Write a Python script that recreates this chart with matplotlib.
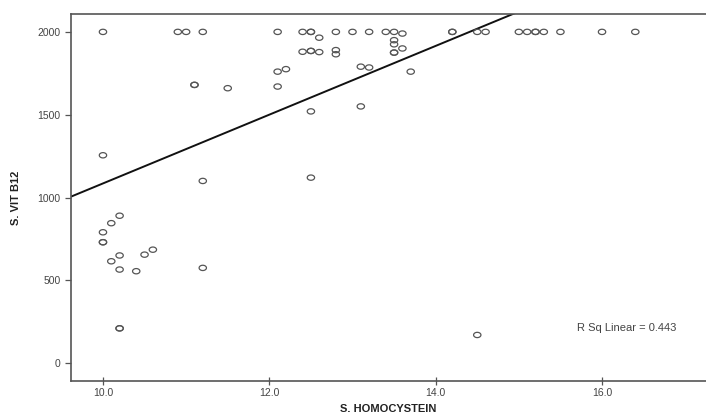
import numpy as np
import matplotlib
matplotlib.use("Agg")
import matplotlib.pyplot as plt
from matplotlib.path import Path

# datos
homocystein = [
    10.0, 10.9, 11.0, 11.2, 12.1, 12.4, 12.5, 12.5, 12.6, 12.8, 13.0, 13.2, 13.4,
    13.5, 13.6, 14.2, 14.2, 14.5, 14.6, 15.0, 15.1, 15.2, 15.2, 15.3, 15.5, 16.0, 16.4,
    12.4, 12.5, 12.5, 12.6, 12.8, 12.8,
    13.5, 13.5, 13.5, 13.5, 13.6, 13.7,
    12.1, 12.2, 13.1, 13.2,
    11.1, 11.1, 11.5, 12.1, 12.5, 13.1,
    10.0, 11.2, 12.5,
    10.2, 10.1, 10.0, 10.0, 10.0, 10.2, 10.1, 10.2, 10.4, 10.5, 10.6, 11.2,
    10.2, 10.2, 14.5,
]
vit_b12 = [
    2000, 2000, 2000, 2000, 2000, 2000, 2000, 2000, 1965, 2000, 2000, 2000, 2000,
    2000, 1990, 2000, 2000, 2000, 2000, 2000, 2000, 2000, 2000, 2000, 2000, 2000, 2000,
    1880, 1885, 1885, 1878, 1890, 1865,
    1950, 1925, 1875, 1875, 1900, 1760,
    1760, 1775, 1790, 1785,
    1680, 1680, 1660, 1670, 1520, 1550,
    1255, 1100, 1120,
    890, 845, 790, 730, 730, 650, 615, 565, 555, 655, 685, 575,
    210, 210, 170,
]

# recta de ajuste
fit_slope = 207.6
fit_intercept = -991.0
r_sq = 0.443

x_ticks = [10.0, 12.0, 14.0, 16.0]
y_ticks = [0, 500, 1000, 1500, 2000]

plt.rcParams['font.family'] = ['Liberation Sans', 'DejaVu Sans']

fig = plt.figure(figsize=(7.06, 4.18), dpi=100)
ax = fig.add_axes([0.1006, 0.0885, 0.8994, 0.878])

# marcador eliptico (circulo algo aplastado)
t = np.linspace(0, 2 * np.pi, 40)
ellipse = Path(np.column_stack([np.cos(t), 0.72 * np.sin(t)]), closed=True)

ax.scatter(homocystein, vit_b12, marker=ellipse, s=28, facecolors='none',
           edgecolors='#555555', linewidths=0.9, zorder=3)

xlim = (9.616, 17.25)
ylim = (-108, 2108)
xx = np.array(xlim)
ax.plot(xx, fit_slope * xx + fit_intercept, color='#111111', lw=1.4, zorder=2)

ax.set_xlim(*xlim)
ax.set_ylim(*ylim)
ax.set_xticks(x_ticks)
ax.set_xticklabels([f"{v:.1f}" for v in x_ticks])
ax.set_yticks(y_ticks)

for s in ['left', 'bottom', 'top']:
    ax.spines[s].set_color('#555555')
    ax.spines[s].set_linewidth(1.2)
ax.spines['right'].set_visible(False)

ax.tick_params(axis='both', labelsize=7.5, colors='#555555', labelcolor='#444444',
               length=4, width=0.9)
ax.tick_params(axis='x', direction='inout', length=6, pad=2)

ax.set_xlabel('S. HOMOCYSTEIN', fontsize=8, fontweight='bold', color='#222222', labelpad=4)
ax.set_ylabel('S. VIT B12', fontsize=8, fontweight='bold', color='#222222', labelpad=12)

ax.text(15.7, 210, f'R Sq Linear = {r_sq}', fontsize=8, color='#444444',
        va='center', ha='left')

fig.savefig('out.png', dpi=100, facecolor='white')
